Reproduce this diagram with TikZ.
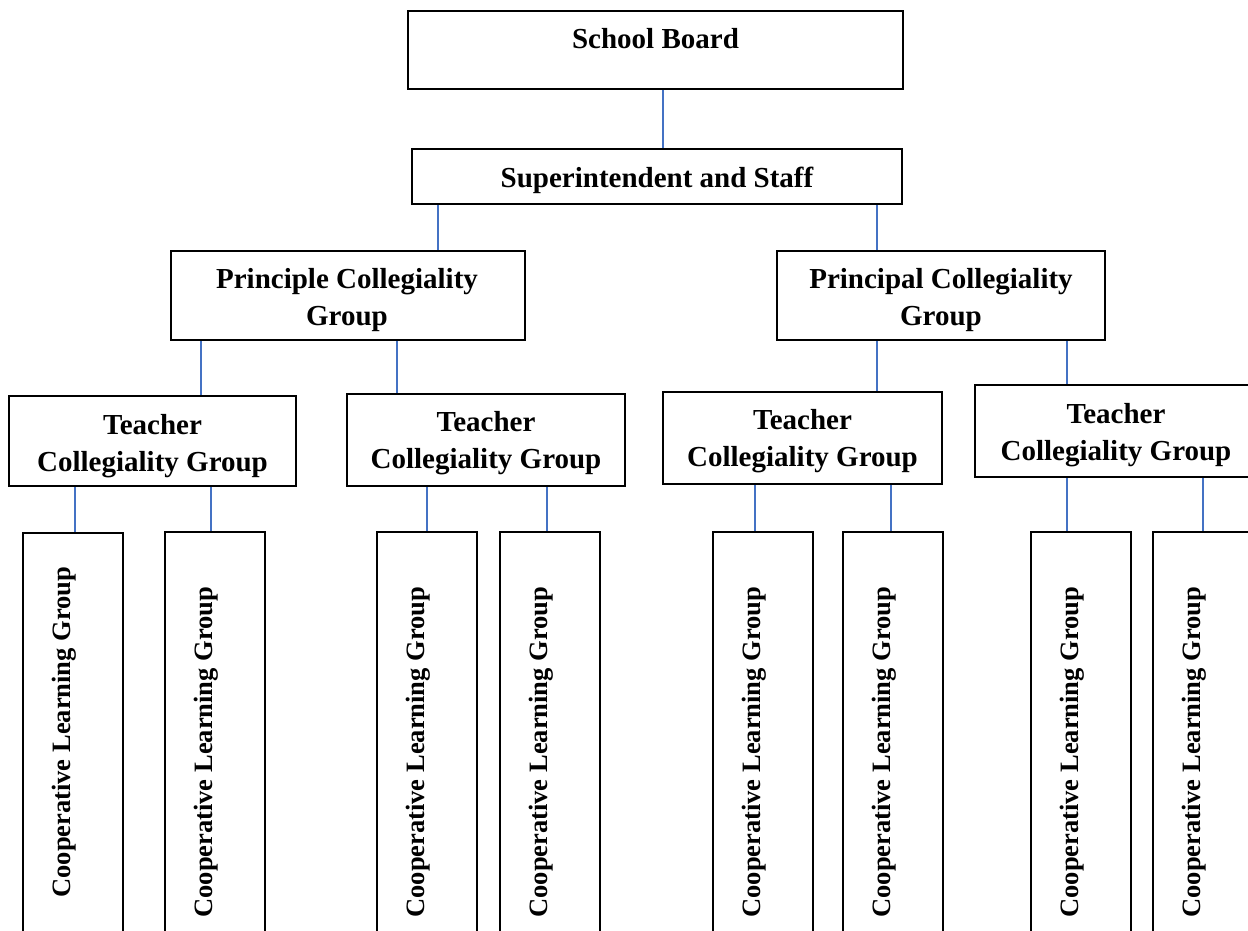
\documentclass[tikz,border=0pt]{standalone}
\usepackage{fontspec}
\setmainfont{Liberation Serif}
\usetikzlibrary{fit}
\definecolor{connblue}{HTML}{4472C4}
\begin{document}
\begin{tikzpicture}[x=0.5pt,y=-0.5pt,
  box/.style={draw=black,line width=1pt,inner sep=0pt,fit={#1}},
  conn/.style={draw=connblue,line width=0.8pt},
  hlab/.style={font=\fontsize{14.5}{18.5}\selectfont\bfseries,align=center,inner sep=0pt},
  vlab/.style={font=\fontsize{13.25}{16}\selectfont\bfseries,rotate=90,anchor=base west,inner sep=0pt}]
\useasboundingbox (0,0) rectangle (1248,931);
\fill[white] (0,0) rectangle (1248,931);
\clip (0,0) rectangle (1248,931);

% boxes
\node[box={(408,11) (903,89)}] (sb) {};
\node[box={(412,149) (902,204)}] (sup) {};
\node[box={(171,251) (525,340)}] (pcg1) {};
\node[box={(777,251) (1105,340)}] (pcg2) {};
\node[box={(9,396) (296,486)}] (tcg1) {};
\node[box={(347,394) (625,486)}] (tcg2) {};
\node[box={(663,392) (942,484)}] (tcg3) {};
\node[box={(975,385) (1257,477)}] (tcg4) {};
\node[box={(23,533) (123,945)}] (clg1) {};
\node[box={(165,532) (265,945)}] (clg2) {};
\node[box={(377,532) (477,945)}] (clg3) {};
\node[box={(500,532) (600,945)}] (clg4) {};
\node[box={(713,532) (813,945)}] (clg5) {};
\node[box={(843,532) (943,945)}] (clg6) {};
\node[box={(1031,532) (1131,945)}] (clg7) {};
\node[box={(1153,532) (1253,945)}] (clg8) {};

% texts
\node[hlab,anchor=base] (tsb) at (655.5,49) {School Board};
\node[hlab,anchor=base] (tsup) at (657,187) {Superintendent and Staff};
\node[hlab] (tpcg1) at (347,299.7) {Principle Collegiality\\Group};
\node[hlab] (tpcg2) at (941,300.2) {Principal Collegiality\\Group};
\node[hlab] (ttcg1) at (152.5,445.7) {Teacher\\Collegiality Group};
\node[hlab] (ttcg2) at (486,443.2) {Teacher\\Collegiality Group};
\node[hlab] (ttcg3) at (802.5,441.2) {Teacher\\Collegiality Group};
\node[hlab] (ttcg4) at (1116,435.2) {Teacher\\Collegiality Group};
\node[vlab] (tclg1) at (70,898) {Cooperative Learning Group};
\node[vlab] (tclg2) at (212.5,918) {Cooperative Learning Group};
\node[vlab] (tclg3) at (424.5,918) {Cooperative Learning Group};
\node[vlab] (tclg4) at (547.5,918) {Cooperative Learning Group};
\node[vlab] (tclg5) at (760.5,918) {Cooperative Learning Group};
\node[vlab] (tclg6) at (890.5,918) {Cooperative Learning Group};
\node[vlab] (tclg7) at (1078.5,918) {Cooperative Learning Group};
\node[vlab] (tclg8) at (1200.5,918) {Cooperative Learning Group};

% connector x positions
\coordinate (k1) at (663,0);
\coordinate (k2) at (438,0);
\coordinate (k3) at (877,0);
\coordinate (k4) at (201,0);
\coordinate (k5) at (397,0);
\coordinate (k6) at (1067,0);
\coordinate (k7) at (75,0);
\coordinate (k8) at (211,0);
\coordinate (k9) at (427,0);
\coordinate (k10) at (547,0);
\coordinate (k11) at (755,0);
\coordinate (k12) at (891,0);
\coordinate (k13) at (1203,0);

% connectors
\draw[conn] (sb.south -| k1) -- (sup.north -| k1);
\draw[conn] (sup.south -| k2) -- (pcg1.north -| k2);
\draw[conn] (sup.south -| k3) -- (pcg2.north -| k3);
\draw[conn] (pcg1.south -| k4) -- (tcg1.north -| k4);
\draw[conn] (pcg1.south -| k5) -- (tcg2.north -| k5);
\draw[conn] (pcg2.south -| k3) -- (tcg3.north -| k3);
\draw[conn] (pcg2.south -| k6) -- (tcg4.north -| k6);
\draw[conn] (tcg1.south -| k7) -- (clg1.north -| k7);
\draw[conn] (tcg1.south -| k8) -- (clg2.north -| k8);
\draw[conn] (tcg2.south -| k9) -- (clg3.north -| k9);
\draw[conn] (tcg2.south -| k10) -- (clg4.north -| k10);
\draw[conn] (tcg3.south -| k11) -- (clg5.north -| k11);
\draw[conn] (tcg3.south -| k12) -- (clg6.north -| k12);
\draw[conn] (tcg4.south -| k6) -- (clg7.north -| k6);
\draw[conn] (tcg4.south -| k13) -- (clg8.north -| k13);
\end{tikzpicture}
\end{document}
